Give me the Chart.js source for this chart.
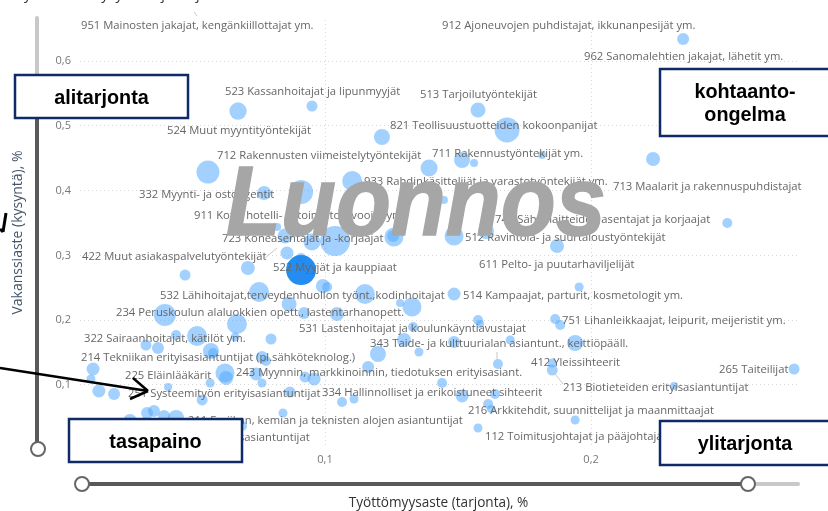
<!DOCTYPE html>
<html><head><meta charset="utf-8">
<style>html,body{margin:0;padding:0;background:#fff;overflow:hidden}canvas{display:block}</style>
<script src="https://cdn.jsdelivr.net/npm/chart.js@4"></script>
</head><body><canvas id="c" width="828" height="511"></canvas>
<script>
const bubbleX=[.0673,.0951,.1214,.056,.1102,.0771,.091,.0865,.082,.085,.0951,.1038,.1259,.1256,.0857,.091,.2346,.1575,.1684,.1391,.1515,.156,.1816,.2233,.2512,.1485,.1605,.1872,.1447,.071,.0474,.0992,.1008,.0752,.115,.0865,.1282,.1327,.0921,.1045,.0398,.0669,.0519,.044,.0327,.0372,.0797,.0662,.0571,.0579,.1199,.1297,.1331,.0763,.0778,.0128,.012,.015,.0207,.041,.0538,.0568,.0624,.0628,.0741,.0763,.0925,.0959,.1162,.0868,.1064,.1109,.0842,.0331,.0357,.0395,.044,.0267,.0688,.1955,.1485,.1575,.1583,.1865,.1884,.1485,.1696,.194,.1353,.165,.1854,.1854,.2763,.144,.2312,.1515,.1639,.1613,.1624,.194,.1575];
const bubbleY=[.5228,.5305,.4827,.4287,.4148,.3963,.3978,.3561,.3438,.3299,.3206,.3222,.3284,.3299,.3037,.296,.6339,.5243,.4935,.4348,.4472,.4425,.4549,.4487,.35,.3299,.3376,.3145,.3855,.2805,.2697,.2528,.2512,.2435,.2404,.225,.2265,.2204,.2111,.2096,.208,.1941,.1756,.1772,.1617,.1571,.171,.1741,.1525,.1494,.1478,.1694,.1895,.1432,.137,.1247,.1093,.0907,.0861,.0969,.0769,.1031,.1185,.1108,.117,.1031,.1123,.1093,.1278,.0892,.0738,.0784,.0568,.0568,.0599,.0522,.0491,.0445,.0367,.2512,.2404,.2003,.1941,.2018,.1926,.1664,.1694,.1648,.1509,.1324,.1339,.1231,.1247,.1031,.0985,.083,.0861,.0707,.063,.046,.0336];
const bubbleR=[8.7,5.5,8,11.5,10,7,12,5,4,7.5,8.5,15,9.5,6,6.5,5,6,7.5,12.5,8.5,8,4,4,7,5,9.5,8,7,4,7,5.5,7,5,10,10,7.5,4,9.5,6,7,11,10,10,5,5.5,6,5.5,4.5,8,5,8,7,5,6,5,6.5,4.5,6.5,6,4,5.5,4.5,9.5,7,6.5,4.5,5.5,6.5,6,5.5,5,4.5,4.5,6,6,6,8,7,5,4.5,6.5,5,4,5,5,6,4.5,8,4.5,5,4.5,5.5,5.5,5,4,6.5,5,5,4,4.5,4.5];
const highlightX=[.091];
const highlightY=[.2774];
const highlightR=[15];
const yTicks=[.1,.2,.3,.4,.5,.6];
const xTicks=[.1,.2];
const occupationLabels=[
"951 Mainosten jakajat, kengänkiillottajat ym.","523 Kassanhoitajat ja lipunmyyjät","524 Muut myyntityöntekijät","712 Rakennusten viimeistelytyöntekijät","821 Teollisuustuotteiden kokoonpanijat","332 Myynti- ja ostoagentit","911 Koti-, hotelli- ja toimistosiivoojat ym.","723 Koneasentajat ja -korjaajat","422 Muut asiakaspalvelutyöntekijät","522 Myyjät ja kauppiaat","532 Lähihoitajat,terveydenhuollon työnt.,kodinhoitajat","234 Peruskoulun alaluokkien opett., lastentarhanopett.","531 Lastenhoitajat ja koulunkäyntiavustajat","343 Taide- ja kulttuurialan asiantunt., keittiöpääll.","322 Sairaanhoitajat, kätilöt ym.","214 Tekniikan erityisasiantuntijat (pl.sähköteknolog.)","225 Eläinlääkärit","243 Myynnin, markkinoinnin, tiedotuksen erityisasiant.","251 Systeemityön erityisasiantuntijat","334 Hallinnolliset ja erikoistuneet sihteerit","211 Fysiikan, kemian ja teknisten alojen asiantuntijat","242 Hallinnon erityisasiantuntijat","912 Ajoneuvojen puhdistajat, ikkunanpesijät ym.","962 Sanomalehtien jakajat, lähetit ym.","513 Tarjoilutyöntekijät","711 Rakennustyöntekijät ym.","933 Rahdinkäsittelijät ja varastotyöntekijät ym.","713 Maalarit ja rakennuspuhdistajat","741 Sähkölaitteiden asentajat ja korjaajat","512 Ravintola- ja suurtaloustyöntekijät","611 Pelto- ja puutarhaviljelijät","514 Kampaajat, parturit, kosmetologit ym.","751 Lihanleikkaajat, leipurit, meijeristit ym.","412 Yleissihteerit","265 Taiteilijat","213 Biotieteiden erityisasiantuntijat","216 Arkkitehdit, suunnittelijat ja maanmittaajat","112 Toimitusjohtajat ja pääjohtajat"];
const chartTitle="Työvoiman kysynnän ja tarjonnan kohtaanto";
const xTitle="Työttömyysaste (tarjonta), %";
const yTitle="Vakanssiaste (kysyntä), %";
const watermark="Luonnos";

/* pixel placement of the annotations, one entry per label above */
const labelPlaces=[[81,26],[225,92],[167,131],[217,156],[390,126],[139,195],[194,216],[222,239],[82,257],[273,268],[160,296],[116,313],[299,329],[370,344],[84,339],[81,358],[125,376],[236,373],[128,394],[322,393],[188,421],[137,438],[442,26],[584,57],[420,95],[432,154],[364,182],[613,187],[495,220],[465,238],[479,265],[463,296],[562,321],[531,363],[719,370],[563,388],[468,411],[485,437]];
const leaders=[[194,12,197,16],[277,248,265,258],[552,370,563,384],[497,352,497,360]];
const boxes=[[15,75,173,43,["alitarjonta"]],[660,69,170,67,["kohtaanto-","ongelma"]],[69,419,173,43,["tasapaino"]],[660,421,170,44,["ylitarjonta"]]];

const annotate={id:'annotate',
 afterDatasetsDraw(ch){
  const g=ch.ctx;g.save();
  g.strokeStyle='#C9C9C9';g.lineWidth=1;
  leaders.forEach(l=>{g.beginPath();g.moveTo(l[0],l[1]);g.lineTo(l[2],l[3]);g.stroke();});
  g.font='11.25px "Open Sans"';g.fillStyle='#666';g.textBaseline='middle';g.textAlign='left';
  occupationLabels.forEach((t,i)=>g.fillText(t,labelPlaces[i][0],labelPlaces[i][1]));
  g.restore();
 },
 afterDraw(ch){
  const g=ch.ctx;g.save();
  /* clipped report title */
  g.font='14.5px "Open Sans"';g.fillStyle='#333';g.textAlign='left';g.textBaseline='alphabetic';
  g.fillText(chartTitle,16,-1);
  /* watermark */
  g.save();g.translate(226,235);g.scale(.918,1);
  g.font='italic bold 98px "Liberation Sans"';g.fillStyle='#A6A6A6';g.strokeStyle='#A6A6A6';g.lineWidth=1.5;
  g.fillText(watermark,0,0);g.strokeText(watermark,0,0);g.restore();
  /* sliders */
  g.lineCap='round';
  const seg=(a,b,c,d,col,w)=>{g.strokeStyle=col;g.lineWidth=w;g.beginPath();g.moveTo(a,b);g.lineTo(c,d);g.stroke();};
  seg(37,18,37,76,'#C8C8C8',4);seg(37,76,37,442,'#595959',4);
  seg(748,484,798,484,'#C8C8C8',4);seg(82,484,748,484,'#595959',4);
  [[38,449],[82,484],[748,484]].forEach(p=>{g.beginPath();g.arc(p[0],p[1],7,0,7);g.fillStyle='#fff';g.fill();g.strokeStyle='#666';g.lineWidth=2;g.stroke();});
  /* arrows */
  g.lineCap='butt';
  seg(0,368,148,391,'#000',2.5);seg(133,378,148,391,'#000',2.5);seg(130,399,148,391,'#000',2.5);
  seg(6,213,3,232,'#000',3);seg(0,229,3,232,'#000',3);
  /* quadrant boxes */
  boxes.forEach(b=>{
   g.fillStyle='#fff';g.fillRect(b[0],b[1],b[2],b[3]);
   g.strokeStyle='#0F2A66';g.lineWidth=2.5;g.strokeRect(b[0],b[1],b[2],b[3]);
   g.fillStyle='#000';g.font='bold 19.8px "Liberation Sans"';g.textAlign='center';g.textBaseline='middle';
   const cx=b[0]+Math.min(b[2],173)/2,n=b[4].length;
   b[4].forEach((t,i)=>g.fillText(t,cx,b[1]+b[3]/2+2+(i-(n-1)/2)*23));
  });
  g.restore();
 }};

const toPoints=(xs,ys,rs)=>xs.map((x,i)=>({x,y:ys[i],r:rs[i]}));
new Chart(document.getElementById('c'),{
 type:'bubble',
 data:{datasets:[
  {data:toPoints(highlightX,highlightY,highlightR),backgroundColor:'rgba(25,135,240,0.95)',borderWidth:0,clip:false,order:1},
  {data:toPoints(bubbleX,bubbleY,bubbleR),backgroundColor:'rgba(76,166,255,0.52)',borderWidth:0,clip:false,order:2}
 ]},
 options:{responsive:false,animation:false,
  layout:{padding:{left:0,top:20,right:31,bottom:0}},
  plugins:{legend:{display:false},tooltip:{enabled:false},title:{display:false}},
  scales:{
   x:{type:'linear',min:.0079,max:.2774,
    afterFit(s){s.height=66;},
    afterBuildTicks(s){s.ticks=xTicks.map(value=>({value}));},
    grid:{color:'#D8D8D8',drawTicks:false},border:{display:false,dash:[1,3]},
    ticks:{color:'#777',font:{family:'"Open Sans"',size:11},padding:8,maxRotation:0,callback:v=>v.toFixed(1).replace('.',',')},
    title:{display:true,text:xTitle,color:'#333',font:{family:'"Open Sans"',size:13.6},padding:{top:0,bottom:0}}},
   y:{type:'linear',min:.0074,max:.6633,
    afterFit(s){s.width=80;},
    afterBuildTicks(s){s.ticks=yTicks.map(value=>({value}));},
    grid:{color:'#D8D8D8',drawTicks:false},border:{display:false,dash:[1,3]},
    ticks:{color:'#777',font:{family:'"Open Sans"',size:11},padding:9,callback:v=>v.toFixed(1).replace('.',',')},
    title:{display:true,text:yTitle,color:'#44546A',font:{family:'"Open Sans"',size:14},padding:{top:10,bottom:0}}}
  }},
 plugins:[annotate]});
</script></body></html>
